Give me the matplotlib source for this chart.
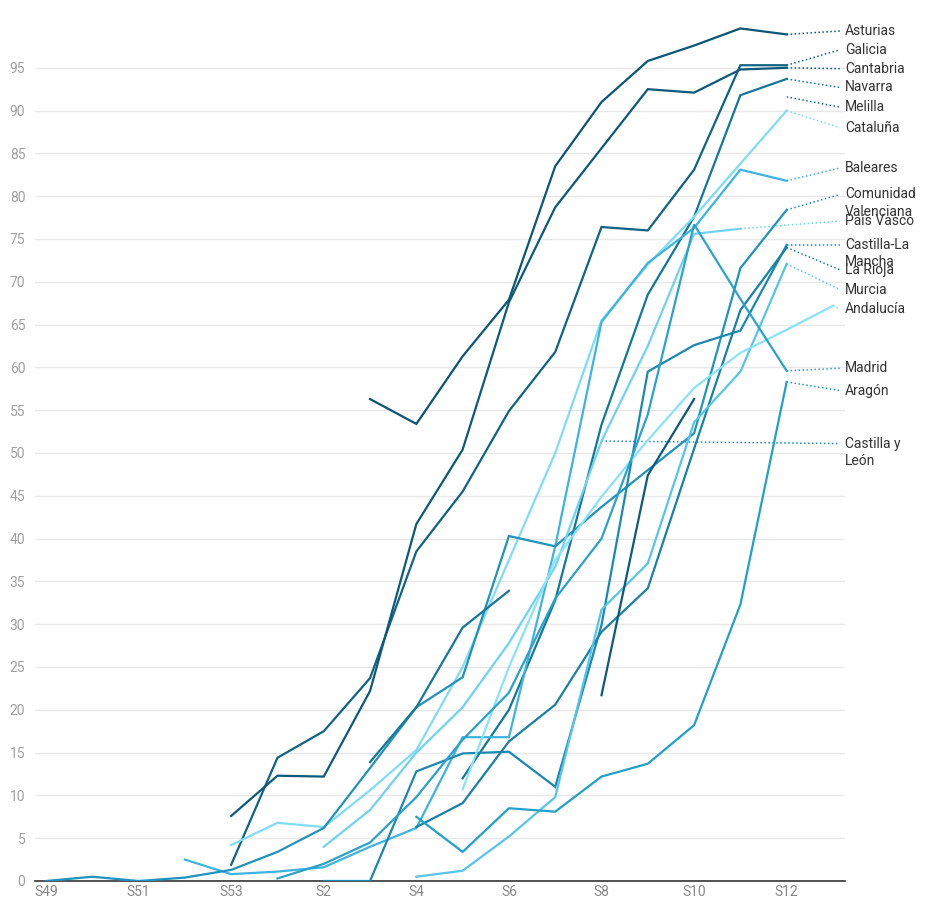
import matplotlib
matplotlib.use("Agg")
import matplotlib.pyplot as plt
import numpy as np

plt.rcParams['font.family'] = ['Roboto', 'DejaVu Sans']

N = np.nan
weeks = ['S49', 'S50', 'S51', 'S52', 'S53', 'S1', 'S2', 'S3', 'S4', 'S5',
         'S6', 'S7', 'S8', 'S9', 'S10', 'S11', 'S12', 'S13']

# values per week, S49 .. S13
asturias = [N, N, N, N, N, N, N, 56.3, 53.4, 61.3, 67.9, 83.5, 91.0, 95.8, 97.6, 99.6, 98.9, N]
galicia = [N, N, N, N, 1.9, 14.4, 17.5, 23.7, 38.5, 45.5, 54.9, 61.8, 76.4, 76.0, 83.1, 95.3, 95.3, N]
cantabria = [N, N, N, N, 7.6, 12.3, 12.2, 22.2, 41.7, 50.4, 67.6, 78.7, 85.6, 92.5, 92.1, 94.8, 95.0, N]
navarra = [N] * 9 + [12.0, 20.0, 32.8, 53.3, 68.5, 77.6, 91.8, 93.7, N]
melilla = [N] * 16 + [91.6, N]
cataluna = [N, N, N, N, 4.2, 6.8, 6.3, 10.6, 15.3, 25.0, 37.5, 50.0, 65.5, 72.0, 77.6, 83.8, 90.0, N]
baleares = [N, N, N, 2.5, 0.8, 1.1, 1.6, 4.0, 6.2, 16.8, 16.8, 39.1, 65.3, 72.2, 76.3, 83.1, 81.8, N]
valenciana = [0.0, 0.5, 0.0, 0.4, 1.3, 3.4, 6.2, 13.2, 20.3, 23.8, 40.3, 39.1, 43.7, 48.0, 52.3, 71.6, 78.4, N]
pais_vasco = [N, N, N, N, N, N, 4.0, 8.3, 15.0, 20.3, 27.8, 36.7, 51.4, 62.5, 75.6, 76.2, N, N]
clm = [N, N, N, N, N, N, 0.0, 0.0, 12.8, 14.9, 15.1, 11.0, 29.9, 59.5, 62.6, 64.3, 74.3, N]
rioja = [N] * 8 + [6.3, 9.1, 16.3, 20.6, 29.1, 34.2, 50.5, 66.7, 74.0, N]
murcia = [N] * 8 + [0.5, 1.2, 5.2, 9.8, 31.7, 37.1, 53.6, 59.5, 72.1, N]
andalucia = [N] * 9 + [10.7, 25.0, 37.5, 44.9, 51.5, 57.6, 61.7, 64.4, 67.2]
madrid = [N, N, N, N, N, 0.3, 2.0, 4.5, 9.8, 16.5, 22.0, 33.0, 40.0, 54.5, 76.7, 68.0, 59.6, N]
aragon = [N] * 8 + [7.5, 3.4, 8.5, 8.1, 12.2, 13.7, 18.2, 32.3, 58.3, N]
castilla_leon = [N] * 12 + [51.4] + [N] * 5
otra_1 = [N] * 7 + [13.9, 20.3, 29.6, 33.9] + [N] * 7
otra_2 = [N] * 12 + [21.7, 47.4, 56.3] + [N] * 3

# (name, values, colour, label y)
series = [
    ('Asturias', asturias, '#0b5676', 99.3),
    ('Galicia', galicia, '#0f6384', 97.1),
    ('Cantabria', cantabria, '#0c5a7b', 94.9),
    ('Navarra', navarra, '#11789c', 92.7),
    ('Melilla', melilla, '#136f93', 90.4),
    ('Cataluña', cataluna, '#7fdcf6', 88.0),
    ('Baleares', baleares, '#3db3df', 83.3),
    ('Comunidad\nValenciana', valenciana, '#1f93bd', 80.2),
    ('País Vasco', pais_vasco, '#6ed3f2', 77.1),
    ('Castilla-La\nMancha', clm, '#1989b1', 74.3),
    ('La Rioja', rioja, '#1781a7', 71.4),
    ('Murcia', murcia, '#55c5ec', 69.1),
    ('Andalucía', andalucia, '#88e3fa', 66.8),
    ('Madrid', madrid, '#2aa2cc', 59.9),
    ('Aragón', aragon, '#21a0c9', 57.3),
    ('Castilla y\nLeón', castilla_leon, '#1d8fb8', 51.1),
    (None, otra_1, '#13789c', None),
    (None, otra_2, '#0d5a7a', None),
]

fig = plt.figure(figsize=(9.29, 9.01), dpi=100)
ax = fig.add_axes([35 / 929, 20 / 901, 810 / 929, 856 / 901])

x = np.arange(len(weeks))
lead_x = 17.15
text_x = 17.26
line_step = 1.99

for name, vals, color, ly in series:
    v = np.array(vals, dtype=float)
    ax.plot(x, v, color=color, lw=1.6, solid_joinstyle='miter', zorder=3)
    if name is None:
        continue
    last = np.where(~np.isnan(v))[0][-1]
    ax.plot([x[last], lead_x], [v[last], ly], color=color, lw=1.1,
            linestyle=(0, (1, 1.6)), zorder=2)
    for k, part in enumerate(name.split('\n')):
        ax.text(text_x, ly - k * line_step, part, fontsize=10, color='#333333',
                va='center', ha='left')

ax.set_xlim(-0.238, 17.26)
ax.set_ylim(0, 100)
ax.set_yticks(np.arange(0, 100, 5))
ax.set_xticks(x[::2])
ax.set_xticklabels(weeks[::2])
ax.tick_params(axis='y', length=0, pad=7, labelsize=10, labelcolor='#a0a0a0')
ax.tick_params(axis='x', length=0, pad=3, labelsize=10, labelcolor='#888888')
ax.grid(axis='y', color='#e8e8e8', lw=1)
ax.set_axisbelow(True)
for s in ['top', 'right', 'left']:
    ax.spines[s].set_visible(False)
ax.spines['bottom'].set_color('#333333')
ax.spines['bottom'].set_linewidth(1.2)

fig.savefig('out.png', dpi=100)
